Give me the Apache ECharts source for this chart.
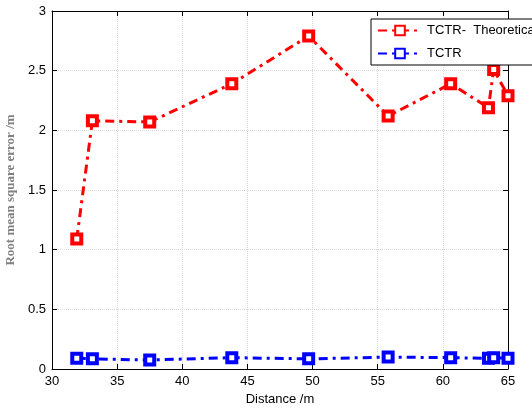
<!DOCTYPE html>
<html><head><meta charset="utf-8">
<script src="https://cdn.jsdelivr.net/npm/echarts@6/dist/echarts.min.js"></script>
<style>html,body{margin:0;padding:0;background:#fff}#c{width:532px;height:409px}</style>
</head><body><div id="c"></div>
<script>
const distance = [31.9, 33.1, 37.5, 43.8, 49.7, 55.8, 60.6, 63.5, 63.9, 65.0];
const theoretical = [1.09, 2.08, 2.07, 2.39, 2.79, 2.12, 2.39, 2.19, 2.51, 2.29];
const tctr = [0.09, 0.085, 0.075, 0.095, 0.085, 0.1, 0.095, 0.09, 0.095, 0.09];
const seriesNames = ['TCTR-  Theoretical', 'TCTR'];
const xTitle = 'Distance /m';
const yTitle = 'Root mean square error /m';

const chart = echarts.init(document.getElementById('c'), null, {renderer: 'canvas'});
const font = 'Liberation Sans, Arial, sans-serif';
function mk(name, ys, color) {
  return {
    name: name, type: 'line', data: distance.map((d, i) => [d, ys[i]]),
    symbol: 'rect', symbolSize: 9,
    itemStyle: {color: '#fff', borderColor: color, borderWidth: 4},
    lineStyle: {color: color, width: 3, type: [9, 5, 3, 5]},
    emphasis: {disabled: true}, animation: false, z: 3
  };
}
chart.setOption({
  animation: false,
  grid: {left: 52, right: 24, top: 11, bottom: 40, containLabel: false, outerBoundsMode: 'none'},
  legend: {
    left: 371, top: 19, orient: 'vertical', itemWidth: 44, itemHeight: 12, itemGap: 10,
    padding: [5, 12, 5, 6], backgroundColor: '#fff', borderColor: '#000', borderWidth: 1,
    textStyle: {fontFamily: font, fontSize: 13, color: '#000'},
    data: seriesNames
  },
  xAxis: [{
    type: 'value', min: 30, max: 65, interval: 5,
    name: xTitle, nameLocation: 'middle', nameGap: 22,
    nameTextStyle: {fontFamily: font, fontSize: 13, color: '#000'},
    axisLine: {show: true, lineStyle: {color: '#000', width: 1}},
    axisTick: {show: true, inside: true, length: 5, lineStyle: {color: '#000'}},
    axisLabel: {fontFamily: font, fontSize: 13, color: '#000', margin: 6},
    splitLine: {show: true, lineStyle: {color: '#d8d8d8', type: 'dotted', width: 1}}
  }, {
    type: 'value', min: 30, max: 65, interval: 5, position: 'top',
    axisLine: {show: true, onZero: false, lineStyle: {color: '#000', width: 1}},
    axisTick: {show: true, inside: true, length: 5, lineStyle: {color: '#000'}},
    axisLabel: {show: false}, splitLine: {show: false}
  }],
  yAxis: [{
    type: 'value', min: 0, max: 3, interval: 0.5,
    name: yTitle, nameLocation: 'middle', nameGap: 34,
    nameTextStyle: {fontFamily: 'Liberation Serif, Times New Roman, serif', fontSize: 13, color: '#808080', fontWeight: 'bold'},
    axisLine: {show: true, lineStyle: {color: '#000', width: 1}},
    axisTick: {show: true, inside: true, length: 5, lineStyle: {color: '#000'}},
    axisLabel: {fontFamily: font, fontSize: 13, color: '#000', margin: 6},
    splitLine: {show: true, lineStyle: {color: '#d8d8d8', type: 'dotted', width: 1}}
  }, {
    type: 'value', min: 0, max: 3, interval: 0.5, position: 'right',
    axisLine: {show: true, onZero: false, lineStyle: {color: '#000', width: 1}},
    axisTick: {show: true, inside: true, length: 5, lineStyle: {color: '#000'}},
    axisLabel: {show: false}, splitLine: {show: false}
  }],
  series: [mk(seriesNames[0], theoretical, '#ff0000'), mk(seriesNames[1], tctr, '#0000ff')]
});
</script></body></html>
